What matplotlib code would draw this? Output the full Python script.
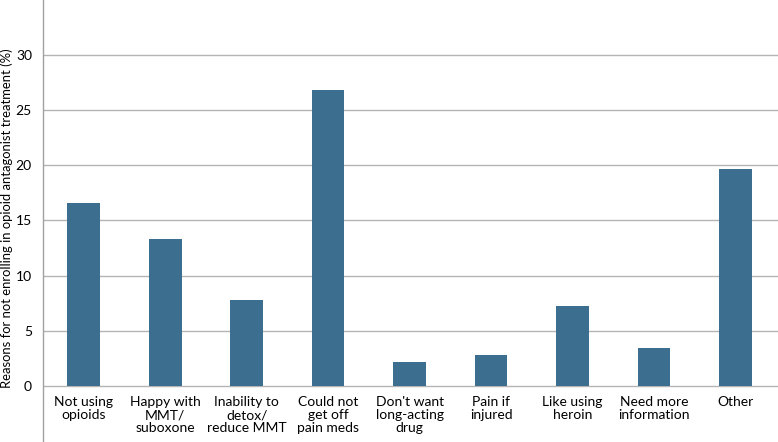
import numpy as np
import matplotlib.pyplot as plt

plt.rcParams['font.family'] = ['Lato', 'DejaVu Sans']

categories = ['Not using\nopioids', 'Happy with\nMMT/\nsuboxone', 'Inability to\ndetox/\nreduce MMT',
              'Could not\nget off\npain meds', "Don't want\nlong-acting\ndrug", 'Pain if\ninjured',
              'Like using\nheroin', 'Need more\ninformation', 'Other']
values = [16.6, 13.3, 7.8, 26.8, 2.2, 2.8, 7.2, 3.4, 19.7]
yticks = [0, 5, 10, 15, 20, 25, 30]

fig = plt.figure(figsize=(7.78, 4.42), dpi=100)
ax = fig.add_axes([43 / 778, 0, 735 / 778, 1])

x = np.arange(len(categories))
ax.bar(x, values, width=0.4, color='#3b6e8f', zorder=3)

ax.set_xlim(-0.5, 8.52)
ax.set_ylim(-5.1, 35)
ax.set_yticks(yticks)
ax.set_yticklabels([str(t) for t in yticks], fontsize=10)
ax.tick_params(axis='y', length=0, pad=8)
ax.set_xticks([])
for t in yticks:
    ax.axhline(t, color='#b4b4b4', lw=1, zorder=1)

for xi, lab in zip(x, categories):
    ax.text(xi, -0.95, lab, ha='center', va='top', fontsize=10, linespacing=1.1)

for s in ['top', 'right', 'bottom']:
    ax.spines[s].set_visible(False)
ax.spines['left'].set_color('#a0a0a0')
ax.spines['left'].set_linewidth(1)

fig.text(0.009, 1 - 218 / 442, 'Reasons for not enrolling in opioid antagonist treatment (%)',
         rotation=90, ha='center', va='center', fontsize=9.4)

fig.savefig('out.png', dpi=100)
